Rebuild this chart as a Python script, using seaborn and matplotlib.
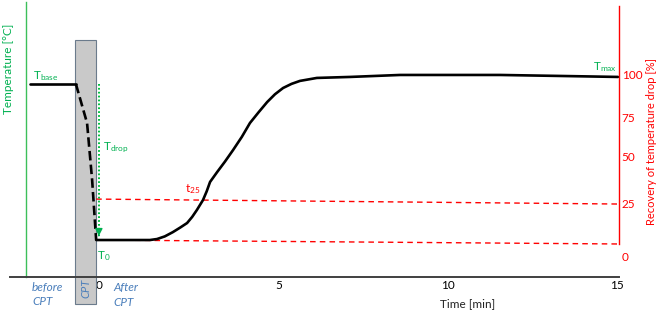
import matplotlib
matplotlib.use("Agg")
import matplotlib.pyplot as plt
import seaborn as sns
import pandas as pd

# ---------------- data (schematic) ----------------
# x: time [min] (schematic scale), y: recovery of temperature drop [%]
base_t = [-2.37, -1.01]
base_p = [94.5, 94.5]

drop_t = [-1.01, -0.68, -0.53, -0.41]
drop_p = [94.5, 70.9, 36.4, 0.0]

rec_t = [-0.41, 0.50, 1.18, 1.39, 1.62, 1.86, 2.08, 2.28, 2.43, 2.57, 2.75, 2.86,
         2.96, 3.17, 3.40, 3.64, 3.90, 4.14, 4.40, 4.65, 4.88, 5.12, 5.37, 5.62,
         6.12, 7.10, 8.58, 10.06, 11.54, 13.31, 15.03]
rec_p = [0.0, 0.0, 0.0, 0.6, 2.2, 4.8, 7.6, 10.3, 14.0, 18.2, 24.2, 29.5,
         35.2, 41.2, 47.5, 54.5, 62.5, 70.9, 77.5, 83.6, 88.3, 92.1, 94.6, 96.4,
         98.2, 98.8, 100.0, 100.0, 100.0, 99.4, 98.8]

ref25_t = [-0.41, 15.09]
ref25_p = [24.8, 21.8]
ref0_t = [-0.41, 15.09]
ref0_p = [0.0, -2.4]

drop_arrow_t = [-0.33, -0.33]
drop_arrow_p = [94.5, 3.0]

cpt_left, cpt_right = -1.04, -0.41
cpt_top, cpt_bottom = 121.2, -38.8

x_ticks = [-0.33, 5, 10, 15]
x_tick_labels = ["0", "5", "10", "15"]
r_ticks = [100, 74.5, 50.3, 22.4, -9.7]
r_tick_labels = ["100", "75", "50", "25", "0"]

GREEN = "#00B050"
RED = "#FF0000"
BLUE = "#4A7EBB"

# ---------------- style ----------------
sns.set_theme(style="white")
plt.rcParams["font.family"] = ["Lato", "DejaVu Sans"]
plt.rcParams["mathtext.fontset"] = "custom"
plt.rcParams["mathtext.rm"] = "Lato"
plt.rcParams["mathtext.it"] = "Lato:italic"

W, H = 660, 312
fig = plt.figure(figsize=(W / 100, H / 100), dpi=100)
L, R, B, T = 10, 619, 277, 2
ax = fig.add_axes([L / W, 1 - B / H, (R - L) / W, (B - T) / H])
ax.set_xlim(-2.96, 15.06)
ax.set_ylim(-22.4, 144.2)

# gray CPT bar
ax.bar([(cpt_left + cpt_right) / 2], [cpt_top - cpt_bottom], bottom=cpt_bottom,
       width=cpt_right - cpt_left, color="#C9C9C9", edgecolor="#6B7B8C",
       linewidth=0.8, clip_on=False, zorder=1)

# red reference dashed lines
sns.lineplot(x=ref25_t, y=ref25_p, ax=ax, color=RED, linewidth=1.0,
             linestyle=(0, (4, 3)), zorder=2)
sns.lineplot(x=ref0_t, y=ref0_p, ax=ax, color=RED, linewidth=1.0,
             linestyle=(0, (4, 3)), zorder=2)

# temperature curve
sns.lineplot(x=base_t, y=base_p, ax=ax, color="black", linewidth=1.9, zorder=3)
sns.lineplot(x=drop_t, y=drop_p, ax=ax, color="black", linewidth=1.9,
             linestyle=(0, (3.6, 1.6)), zorder=3)
df_rec = pd.DataFrame({"t": rec_t, "p": rec_p})
sns.lineplot(data=df_rec, x="t", y="p", ax=ax, color="black", linewidth=1.9,
             sort=False, zorder=3)

# green dotted T_drop arrow
ax.plot(drop_arrow_t, drop_arrow_p, color="#00C040", linewidth=1.4,
        linestyle=(0, (0.9, 1.1)), zorder=6, dash_capstyle="butt")
ax.annotate("", xy=(drop_arrow_t[1], 0.8), xytext=(drop_arrow_t[1], 4.5),
            arrowprops=dict(arrowstyle="-|>,head_length=0.35,head_width=0.18",
                            color=GREEN, lw=1.0), zorder=6)

# spines
for s in ["top", "right"]:
    ax.spines[s].set_visible(False)
ax.spines["left"].set_position(("data", -2.49))
ax.spines["left"].set_color("#3CBF5A")
ax.spines["left"].set_linewidth(1.0)
ax.spines["bottom"].set_color("#404040")
ax.spines["bottom"].set_linewidth(1.4)
ax.spines["bottom"].set_zorder(5)

ax.set_yticks([])
ax.set_xticks(x_ticks)
ax.set_xticklabels(x_tick_labels)
ax.tick_params(axis="x", length=0, pad=2.5, labelsize=8.5, colors="black")
ax.set_xlabel("Time [min]", fontsize=8.5, color="#222222", va="center",
              ha="center")
ax.xaxis.set_label_coords(0.752, -0.098)
ax.set_ylabel("Temperature [°C]", fontsize=8.5, color=GREEN, va="center",
              ha="center")
ax.yaxis.set_label_coords(-0.002, 0.756)

# right axis
ax2 = ax.twinx()
ax2.set_ylim(ax.get_ylim())
for s in ["top", "left", "bottom"]:
    ax2.spines[s].set_visible(False)
ax2.spines["right"].set_color(RED)
ax2.spines["right"].set_linewidth(1.0)
ax2.spines["right"].set_bounds(-2.4, 141.8)
ax2.set_yticks(r_ticks)
ax2.set_yticklabels(r_tick_labels)
ax2.tick_params(axis="y", length=0, pad=2, labelsize=8.5, colors=RED)
ax2.set_ylabel("Recovery of temperature drop [%]", fontsize=8, color=RED,
               rotation=90, va="center", ha="center")
ax2.yaxis.set_label_coords(1.054, 0.491)

# annotations
ax.text(-2.28, 99.4, r"T$_\mathrm{base}$", color=GREEN, fontsize=8.5,
        ha="left", va="center")
ax.text(-0.21, 55.8, r"T$_\mathrm{drop}$", color=GREEN, fontsize=8.5,
        ha="left", va="center")
ax.text(-0.39, -9.7, r"T$_\mathrm{0}$", color=GREEN, fontsize=8.5,
        ha="left", va="center")
ax.text(15.0, 104.8, r"T$_\mathrm{max}$", color=GREEN, fontsize=8.5,
        ha="right", va="center")
ax.text(2.22, 30.9, r"t$_\mathrm{25}$", color=RED, fontsize=8.5,
        ha="left", va="center")

ax.text(-2.31, -33.0, "before\nCPT", color=BLUE, fontsize=8.5, style="italic",
        ha="left", va="center", linespacing=1.35)
ax.text(0.09, -33.3, "After\nCPT", color=BLUE, fontsize=8.5, style="italic",
        ha="left", va="center", linespacing=1.35)
ax.text((cpt_left + cpt_right) / 2, -29.0, "CPT", color=BLUE, fontsize=8,
        style="italic", rotation=90, ha="center", va="center")

fig.savefig("out.png", dpi=100)
